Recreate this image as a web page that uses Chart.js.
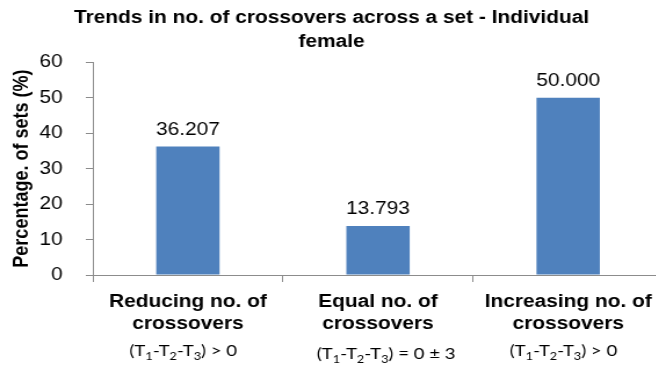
<!DOCTYPE html>
<html>
<head>
<meta charset="utf-8">
<title>Trends in no. of crossovers</title>
<script src="https://cdn.jsdelivr.net/npm/chart.js"></script>
<style>
  html, body { margin: 0; padding: 0; background: #fff; overflow: hidden; width: 656px; height: 367px; }
  #chart { display: block; }
</style>
</head>
<body>
<canvas id="chart" width="574" height="367"></canvas>
<script>
const categories = [
  ['Reducing no. of', 'crossovers'],
  ['Equal no. of', 'crossovers'],
  ['Increasing no. of', 'crossovers'],
];
// "_n" marks a subscript digit
const conditions = ['(T_1-T_2-T_3) > 0', '(T_1-T_2-T_3) = 0 ± 3', '(T_1-T_2-T_3) > 0'];
const percentages = [36.207, 13.793, 50.000];
const yMin = 0;
const yMax = 60;
const yStep = 10;
const titleLines = ['Trends in no. of crossovers across a set - Individual', 'female'];
const yTitle = 'Percentage. of sets (%)';

// drawn narrow, then widened on screen like the exported figure
const STRETCH = 1.16;
const FONT = "'Liberation Sans', Arial, sans-serif";
const COND_FONT = 'Lato, sans-serif';
const AXIS_GREY = '#8c8c8c';
const BAR_BLUE = '#4F81BD';

const canvas = document.getElementById('chart');
canvas.style.width = `${canvas.width * STRETCH}px`;
canvas.style.height = `${canvas.height}px`;

// numbers above each bar
const valueLabels = {
  id: 'valueLabels',
  afterDatasetsDraw(chart) {
    const { ctx } = chart;
    const meta = chart.getDatasetMeta(0);
    ctx.save();
    ctx.font = `18px ${FONT}`;
    ctx.fillStyle = '#000';
    ctx.textAlign = 'center';
    ctx.textBaseline = 'alphabetic';
    meta.data.forEach((bar, i) => {
      ctx.fillText(percentages[i].toFixed(3), bar.x, bar.y - 12);
    });
    ctx.restore();
  },
};

// third line under each category, with subscripts
const condShift = [[-4, 0], [7, 3], [-4, 0]];
const conditionLabels = {
  id: 'conditionLabels',
  afterDraw(chart) {
    const { ctx } = chart;
    const xScale = chart.scales.x;
    const base = `16px ${COND_FONT}`;
    const sub = `11px ${COND_FONT}`;
    ctx.save();
    ctx.fillStyle = '#000';
    ctx.textAlign = 'left';
    ctx.textBaseline = 'alphabetic';
    conditions.forEach((text, i) => {
      const parts = text.split(/_(\d)/);
      let width = 0;
      parts.forEach((p, k) => {
        ctx.font = k % 2 ? sub : base;
        width += ctx.measureText(p).width;
      });
      const baseline = chart.chartArea.bottom + 81 + condShift[i][1];
      let x = xScale.getPixelForValue(i) + condShift[i][0] - width / 2;
      parts.forEach((p, k) => {
        ctx.font = k % 2 ? sub : base;
        ctx.fillText(p, x, k % 2 ? baseline + 4 : baseline);
        x += ctx.measureText(p).width;
      });
    });
    ctx.restore();
  },
};

new Chart(canvas, {
  type: 'bar',
  data: {
    labels: categories,
    datasets: [{
      data: percentages,
      backgroundColor: BAR_BLUE,
      borderWidth: 0,
      barPercentage: 0.333,
      categoryPercentage: 1,
    }],
  },
  options: {
    responsive: false,
    animation: false,
    devicePixelRatio: 1,
    layout: { padding: { left: 0, right: 2.4, top: 0, bottom: 0 } },
    plugins: {
      legend: { display: false },
      tooltip: { enabled: false },
      title: {
        display: true,
        text: titleLines,
        color: '#000',
        font: { family: FONT, size: 18, weight: 'bold', lineHeight: 1.34 },
        padding: { top: 6, bottom: 8 },
      },
    },
    scales: {
      x: {
        grid: { drawOnChartArea: false, drawTicks: true, tickLength: 7, color: AXIS_GREY, offset: true },
        border: { color: AXIS_GREY },
        ticks: {
          color: '#000',
          font: { family: FONT, size: 18, weight: 'bold', lineHeight: 1.22 },
          padding: 9,
          maxRotation: 0,
          autoSkip: false,
        },
        afterFit(scale) { scale.height = 92; },
      },
      y: {
        min: yMin,
        max: yMax,
        ticks: { stepSize: yStep, color: '#000', font: { family: FONT, size: 18 }, padding: 20 },
        grid: { drawOnChartArea: false, drawTicks: true, tickLength: 6, color: AXIS_GREY },
        border: { color: AXIS_GREY },
        title: {
          display: true,
          text: yTitle,
          color: '#000',
          font: { family: FONT, size: 18, weight: 'bold' },
          padding: { top: 8, bottom: 0 },
        },
        afterFit(scale) { scale.width = 80; },
      },
    },
  },
  plugins: [valueLabels, conditionLabels],
});
</script>
</body>
</html>
